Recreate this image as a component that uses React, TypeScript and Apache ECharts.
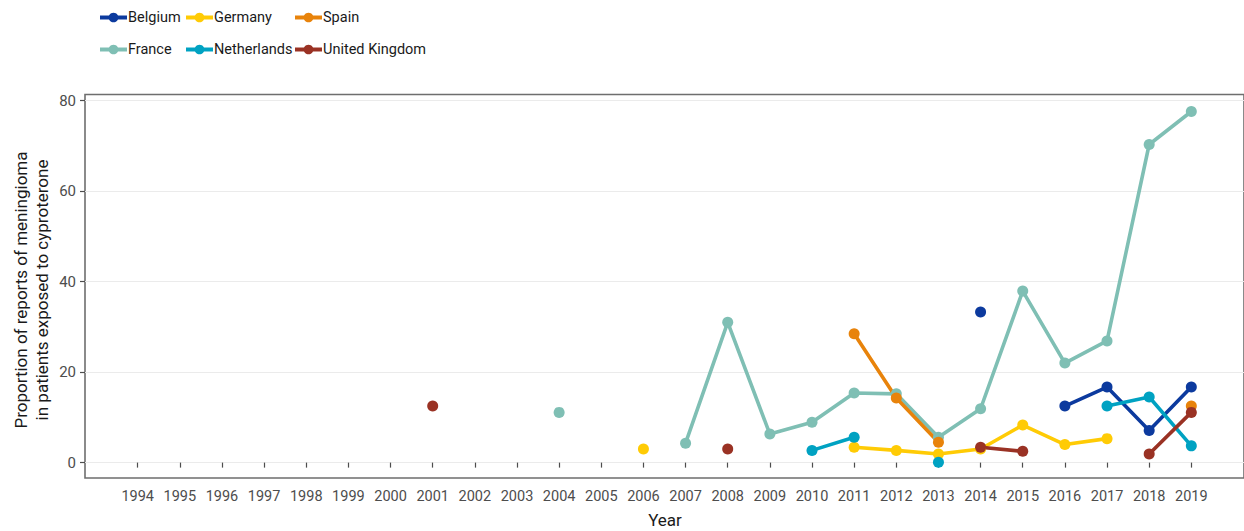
import React, { useEffect, useRef } from "react";
import * as echarts from "echarts";

const years = [
  1994, 1995, 1996, 1997, 1998, 1999, 2000, 2001, 2002, 2003, 2004, 2005, 2006,
  2007, 2008, 2009, 2010, 2011, 2012, 2013, 2014, 2015, 2016, 2017, 2018, 2019,
];

const N = null;
// Proportion (%) per year, 1994..2019; null = no reports that year
const belgium = [N, N, N, N, N, N, N, N, N, N, N, N, N, N, N, N, N, N, N, N, 33.3, N, 12.5, 16.7, 7.1, 16.7];
const france = [N, N, N, N, N, N, N, N, N, N, 11.1, N, N, 4.3, 31.0, 6.3, 8.9, 15.4, 15.2, 5.6, 11.9, 37.9, 22.0, 26.9, 70.3, 77.6];
const germany = [N, N, N, N, N, N, N, N, N, N, N, N, 3.0, N, N, N, N, 3.4, 2.7, 1.9, 3.0, 8.3, 4.0, 5.3, N, N];
const netherlands = [N, N, N, N, N, N, N, N, N, N, N, N, N, N, N, N, 2.7, 5.6, N, 0.1, N, N, N, 12.5, 14.5, 3.7];
const spain = [N, N, N, N, N, N, N, N, N, N, N, N, N, N, N, N, N, 28.5, 14.3, 4.5, N, N, N, N, N, 12.5];
const unitedKingdom = [N, N, N, N, N, N, N, 12.5, N, N, N, N, N, N, 3.0, N, N, N, N, N, 3.4, 2.5, N, N, 1.9, 11.1];

const yTicks = [0, 20, 40, 60, 80];

const countries = [
  { name: "Belgium", values: belgium, color: "#0C3A9E" },
  { name: "France", values: france, color: "#7FBFB4" },
  { name: "Germany", values: germany, color: "#FFCB05" },
  { name: "Netherlands", values: netherlands, color: "#00A2C2" },
  { name: "Spain", values: spain, color: "#E8830B" },
  { name: "United Kingdom", values: unitedKingdom, color: "#9A3224" },
];

// legend grid: column-wise, two rows
const legendLayout = [
  { name: "Belgium", left: 98, top: 10 },
  { name: "France", left: 98, top: 42 },
  { name: "Germany", left: 184, top: 10 },
  { name: "Netherlands", left: 184, top: 42 },
  { name: "Spain", left: 293, top: 10 },
  { name: "United Kingdom", left: 293, top: 42 },
];

const FONT = "Roboto, 'Liberation Sans', sans-serif";

export default function App() {
  const ref = useRef<HTMLDivElement>(null);

  useEffect(() => {
    if (!ref.current) return;
    const chart = echarts.init(ref.current, null, { renderer: "svg" });

    const option = {
      animation: false,
      backgroundColor: "#ffffff",
      textStyle: { fontFamily: FONT },
      legend: legendLayout.map((l) => ({
        data: [l.name],
        left: l.left,
        top: l.top,
        padding: 0,
        itemWidth: 27,
        itemHeight: 12,
        itemGap: 0,
        selectedMode: false,
        lineStyle: { width: 4 },
        textStyle: { fontFamily: FONT, fontSize: 14.5, color: "#1a1a1a", padding: [0, 0, 0, -4] },
      })),
      grid: {
        left: 85,
        top: 94.5,
        width: 1161,
        height: 383.5,
        show: true,
        borderColor: "#6e6e6e",
        borderWidth: 1.6,
        containLabel: false,
      },
      xAxis: {
        type: "value",
        min: 1992.75,
        max: 2020.25,
        axisLine: { show: false },
        splitLine: { show: false },
        axisTick: {
          show: true,
          length: 5,
          lineStyle: { color: "#4d4d4d", width: 1.2 },
          customValues: years,
        },
        axisLabel: {
          customValues: years,
          formatter: (v: number) => String(Math.round(v)),
          color: "#4d4d4d",
          fontFamily: FONT,
          fontSize: 14.5,
          margin: 11,
        },
      },
      yAxis: {
        type: "value",
        min: -3.4,
        max: 81.35,
        axisLine: { show: false },
        axisTick: {
          show: true,
          length: 5,
          lineStyle: { color: "#4d4d4d", width: 1.2 },
          customValues: yTicks,
        },
        axisLabel: {
          customValues: yTicks,
          color: "#4d4d4d",
          fontFamily: FONT,
          fontSize: 15,
          margin: 9,
        },
        splitLine: { show: true, lineStyle: { color: "#ebebeb", width: 1.2 } },
      },
      graphic: [
        {
          type: "text",
          x: 31,
          y: 290,
          rotation: Math.PI / 2,
          style: {
            text: "Proportion of reports of meningioma\nin patients exposed to cyproterone",
            fontFamily: FONT,
            fontSize: 17,
            lineHeight: 21,
            fill: "#1a1a1a",
            align: "center",
            verticalAlign: "middle",
          },
        },
        {
          type: "text",
          x: 665,
          y: 520,
          style: {
            text: "Year",
            fontFamily: FONT,
            fontSize: 17,
            fill: "#1a1a1a",
            align: "center",
            verticalAlign: "middle",
          },
        },
      ],
      series: countries.map((c) => ({
        name: c.name,
        type: "line",
        data: years.map((y, i) => [y, c.values[i]]),
        connectNulls: false,
        symbol: "circle",
        symbolSize: 11,
        showSymbol: true,
        lineStyle: { color: c.color, width: 3.6 },
        itemStyle: { color: c.color },
        emphasis: { disabled: true },
      })),
    };

    chart.setOption(option as any);
    return () => chart.dispose();
  }, []);

  return (
    <div
      ref={ref}
      style={{ position: "absolute", left: 0, top: 0, width: 1244, height: 531 }}
    />
  );
}
